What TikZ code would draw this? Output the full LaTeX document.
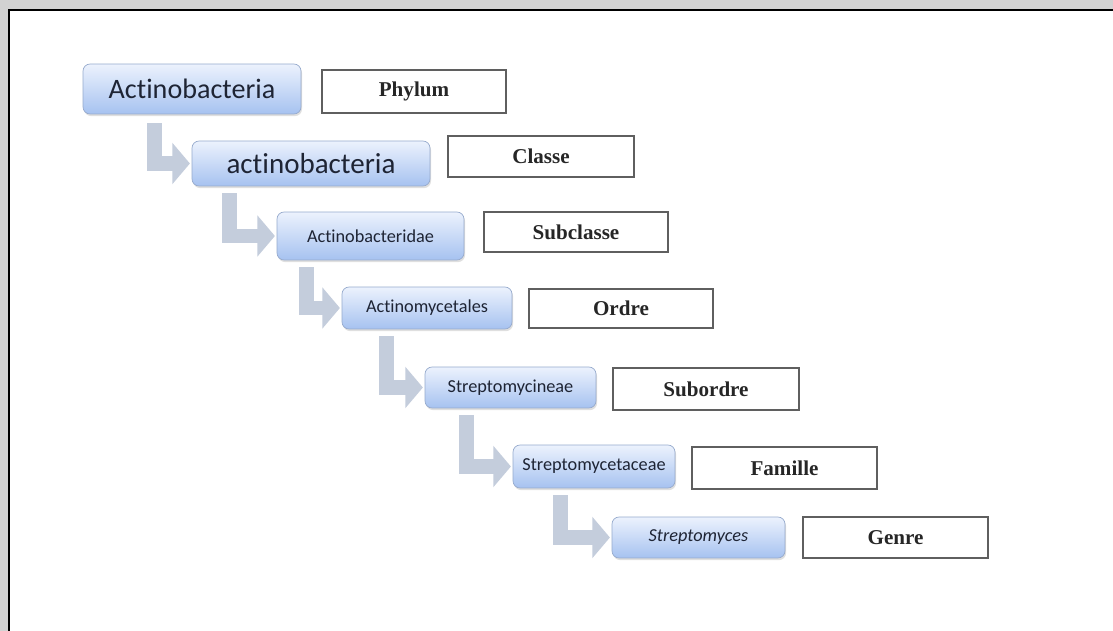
\documentclass[tikz,border=0pt]{standalone}
\usepackage{fontspec}
\setmainfont{Liberation Serif}
\setsansfont{Carlito}[Ligatures=NoCommon]
\usetikzlibrary{arrows.meta,shadows}
\definecolor{taxtop}{RGB}{236,242,253}
\definecolor{taxbot}{RGB}{166,194,240}
\definecolor{taxline}{RGB}{150,170,205}
\definecolor{taxtext}{RGB}{30,36,52}
\definecolor{elbowcol}{RGB}{196,205,220}
\definecolor{rankline}{RGB}{95,95,95}
\tikzset{taxon/.style={draw=taxline, rounded corners=4pt, top color=taxtop,
    bottom color=taxbot, text=taxtext, inner sep=0pt,
    font=\sffamily\fontsize{10.4}{12}\selectfont,
    drop shadow={opacity=.25, shadow xshift=.6pt, shadow yshift=-1.2pt}},
  rank/.style={draw=rankline, line width=1.1pt, fill=white, inner sep=0pt,
    text=black!85, font=\bfseries\fontsize{12}{14}\selectfont},
  elbow/.style={draw=elbowcol, line width=8.5pt,
    -{Triangle[width=23pt,length=10pt]}, shorten >=1pt}}

\begin{document}
\begin{tikzpicture}[x=0.02cm, y=-0.02cm]
    \useasboundingbox (0,0) rectangle (1113,631);
    \fill [gray!35] (0,0) rectangle (1113,631); \fill [white] (9,10)
    rectangle (1113,631); \draw [line width=1.2pt] (9,631) -- (9,10) --
    (1113,10);
    \node [taxon, minimum width=4.36cm, minimum height=1cm,
    font=\sffamily\fontsize{16}{18}\selectfont] (actino) at (192,89)
    {Actinobacteria}; \node [taxon, minimum width=4.76cm, minimum
    height=0.9cm, font=\sffamily\fontsize{16.5}{18}\selectfont] (actinoc)
    at (311,163.5) {actinobacteria}; \node [taxon, minimum width=3.74cm,
    minimum height=0.96cm] (actinobact) at (370.5,236) {Actinobacteridae};
    \node [taxon, minimum width=3.4cm, minimum height=0.84cm] (actinomyc)
    at (427,308) {Actinomycetales}; \node [taxon, minimum width=3.42cm,
    minimum height=0.82cm] (streptomycin) at (510.5,387.5)
    {Streptomycineae}; \node [taxon, minimum width=3.24cm, minimum
    height=0.86cm] (streptomycet) at (594,466.5) {Streptomycetaceae};
    \node [taxon, minimum width=3.46cm, minimum height=0.82cm] (strepto)
    at (698.5,537.5) {\itshape Streptomyces};
    \node [rank, minimum width=3.68cm, minimum height=0.86cm] (phylum) at
    (414,91.5) {Phylum}; \node [rank, minimum width=3.72cm, minimum
    height=0.82cm] (classe) at (541,156.5) {Classe}; \node [rank, minimum
    width=3.68cm, minimum height=0.8cm] (subclasse) at (576,232)
    {Subclasse}; \node [rank, minimum width=3.68cm, minimum height=0.78cm]
    (ordre) at (621,308.5) {Ordre}; \node [rank, minimum width=3.72cm,
    minimum height=0.84cm] (subordre) at (706,389) {Subordre}; \node
    [rank, minimum width=3.7cm, minimum height=0.84cm] (famille) at
    (784.5,468) {Famille}; \node [rank, minimum width=3.7cm, minimum
    height=0.82cm] (genre) at (895.5,537.5) {Genre};
    \draw [elbow] ([xshift=1.44cm,yshift=-5pt]actino.south west) |-
    (actinoc.west); \draw [elbow] ([xshift=0.76cm,yshift=-4pt]actinoc.south
    west) |- (actinobact.west); \draw [elbow]
    ([xshift=0.6cm,yshift=-4pt]actinobact.south west) |- (actinomyc.west);
    \draw [elbow] ([xshift=0.9cm,yshift=-4pt]actinomyc.south west) |-
    (streptomycin.west); \draw [elbow]
    ([xshift=0.84cm,yshift=-4pt]streptomycin.south west) |-
    (streptomycet.west); \draw [elbow]
    ([xshift=0.96cm,yshift=-4pt]streptomycet.south west) |- (strepto.west);
  \end{tikzpicture}
\end{document}
